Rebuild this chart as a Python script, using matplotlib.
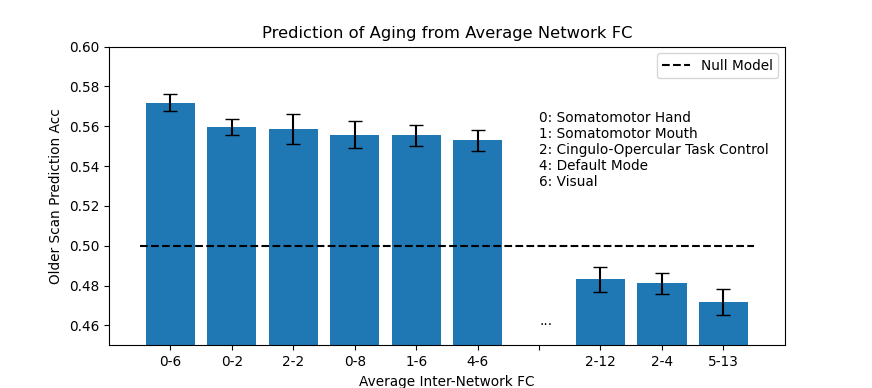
import matplotlib
matplotlib.use("Agg")
import matplotlib.pyplot as plt
import numpy as np

labels = ["0-6", "0-2", "2-2", "0-8", "1-6", "4-6", "", "2-12", "2-4", "5-13"]
top_vals = [0.5718, 0.5597, 0.5586, 0.5557, 0.5554, 0.5529]
top_errs = [0.0043, 0.0039, 0.0076, 0.0068, 0.0051, 0.0053]
bottom_vals = [0.4832, 0.4811, 0.4717]
bottom_errs = [0.0062, 0.0054, 0.0064]
null_value = 0.5
network_key = [
    "0: Somatomotor Hand",
    "1: Somatomotor Mouth",
    "2: Cingulo-Opercular Task Control",
    "4: Default Mode",
    "6: Visual",
]

plt.rcParams["font.size"] = 9.8

fig, ax = plt.subplots(figsize=(8.72, 3.88), dpi=100)

x_top = np.arange(len(top_vals))
x_bot = np.arange(len(bottom_vals)) + len(top_vals) + 1

ax.bar(x_top, top_vals, yerr=top_errs, capsize=5, color="C0")
ax.bar(x_bot, bottom_vals, yerr=bottom_errs, capsize=5, color="C0")
ax.hlines(null_value, -0.5, len(labels) - 0.5, colors="k", linestyles="--", label="Null Model")

ax.text(len(top_vals), 0.46, "...")
ax.text(len(top_vals), 0.5298, "\n".join(network_key))

ax.set_xticks(np.arange(len(labels)))
ax.set_xticklabels(labels)
ax.set_xlim(-1, len(labels))
ax.set_ylim(0.45, 0.60)
ax.set_xlabel("Average Inter-Network FC")
ax.set_ylabel("Older Scan Prediction Acc")
ax.set_title("Prediction of Aging from Average Network FC")
ax.legend(loc="upper right")

fig.savefig("out.png", dpi=100)
